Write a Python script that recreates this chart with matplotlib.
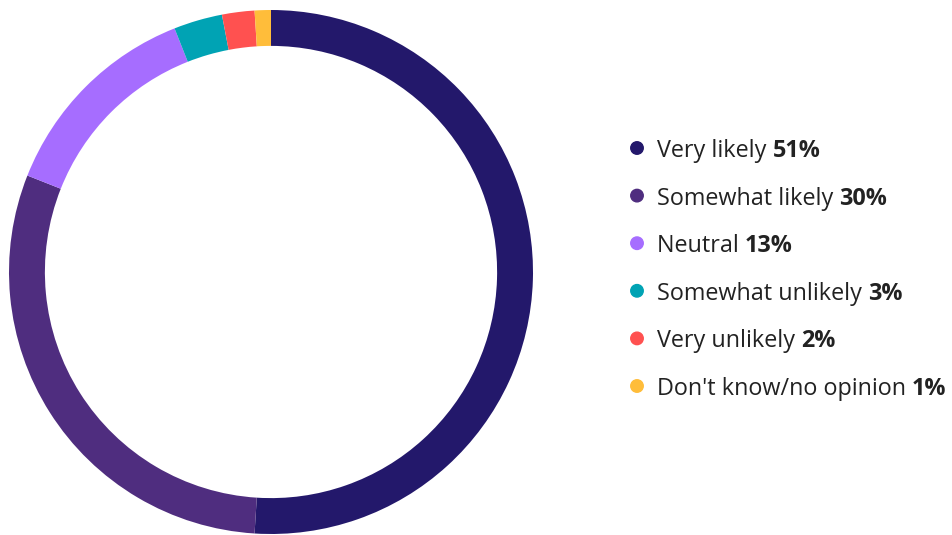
import matplotlib
matplotlib.use("Agg")
from matplotlib import pyplot as plt
from matplotlib.patches import Ellipse

labels = ["Very likely", "Somewhat likely", "Neutral", "Somewhat unlikely",
          "Very unlikely", "Don't know/no opinion"]
shares = [51, 30, 13, 3, 2, 1]
colors = ["#23186b", "#4f2d7f", "#a66dff", "#00a3b4", "#ff5150", "#ffbd3a"]

W, H = 953, 535
fig = plt.figure(figsize=(W / 100, H / 100), dpi=100)
plt.rcParams["font.family"] = ["Open Sans", "DejaVu Sans"]

# donut, centred at (271, 272) px with outer radius 262 px
cx, cy, r = 271, 272, 262
ax = fig.add_axes([(cx - r) / W, (H - cy - r) / H, 2 * r / W, 2 * r / H])
ax.pie(shares, colors=colors, startangle=90, counterclock=False, radius=1,
       wedgeprops=dict(width=0.137, linewidth=0))
ax.set_xlim(-1, 1)
ax.set_ylim(-1, 1)
ax.set_aspect("equal")
ax.axis("off")

# legend built by hand: dot, label, bold share
renderer = fig.canvas.get_renderer()
y0, dy = 148, 47.6
d = 12.5
fs = 16.8
for i, (lab, val, col) in enumerate(zip(labels, shares, colors)):
    y = 1 - (y0 + i * dy) / H
    fig.patches.append(Ellipse((637 / W, y), d / W, d / H, transform=fig.transFigure,
                               color=col, clip_on=False))
    t = fig.text(657 / W, y, lab + " ", fontsize=fs, color="#222222",
                 va="center_baseline", ha="left")
    bb = t.get_window_extent(renderer)
    fig.text(bb.x1 / W, y, f"{val}%", fontsize=fs, color="#222222",
             fontweight="bold", va="center_baseline", ha="left")

fig.savefig("out.png", dpi=100)
